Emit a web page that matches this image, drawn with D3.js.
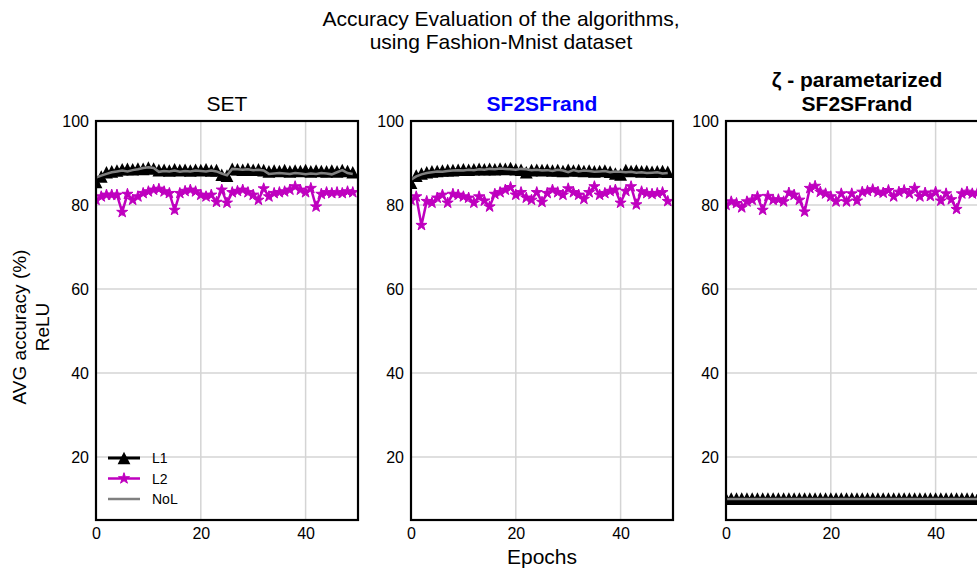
<!DOCTYPE html>
<html>
<head>
<meta charset="utf-8">
<script src="https://cdn.jsdelivr.net/npm/d3@7"></script>
<style>
  body { margin: 0; background: #ffffff; }
  svg { display: block; font-family: "Liberation Sans", Arial, sans-serif; }
</style>
</head>
<body>
<svg id="chart" width="977" height="571"></svg>
<script>
// ---- data -------------------------------------------------------------
const epochs = d3.range(0, 50);

const setL1 = [85.5, 86.8, 87.8, 88.0, 88.2, 88.5, 88.6, 88.5, 88.7, 88.6,
               88.9, 88.7, 88.3, 88.4, 88.2, 88.5, 88.3, 88.4, 88.2, 88.4,
               88.3, 88.5, 88.2, 88.3, 87.2, 87.0, 88.6, 88.5, 88.4, 88.6,
               88.4, 88.5, 88.3, 88.0, 88.2, 88.1, 88.3, 88.0, 88.2, 88.1,
               88.3, 88.0, 88.2, 88.1, 88.0, 88.2, 88.0, 88.3, 88.1, 87.8];
const setL2 = [81.2, 82.0, 82.4, 82.4, 82.4, 78.3, 82.6, 81.2, 82.0, 82.8,
               83.2, 83.6, 83.8, 83.2, 82.8, 78.8, 82.8, 83.3, 83.6, 83.2,
               82.4, 82.0, 82.4, 80.7, 83.6, 80.5, 83.0, 83.3, 83.6, 83.0,
               82.4, 81.2, 83.9, 82.0, 82.8, 83.0, 83.2, 83.6, 84.4, 83.6,
               83.0, 84.0, 79.6, 82.6, 83.0, 82.8, 83.0, 82.8, 83.2, 83.0];
const setNoL = [86.5, 87.0, 87.4, 87.8, 88.0, 88.2, 88.0, 88.3, 88.5, 88.8,
                89.0, 88.8, 87.9, 88.1, 88.0, 88.2, 87.9, 88.1, 88.0, 88.2,
                88.1, 88.0, 88.2, 88.0, 87.5, 87.1, 88.6, 88.5, 88.4, 88.5,
                88.3, 88.4, 88.2, 87.4, 87.5, 87.6, 87.5, 87.4, 87.6, 87.5,
                87.3, 87.5, 87.4, 87.6, 87.5, 87.3, 87.8, 88.3, 87.6, 87.4];

const sfL1 = [85.3, 87.0, 87.5, 87.8, 88.0, 88.1, 88.2, 88.3, 88.3, 88.4,
              88.5, 88.4, 88.5, 88.6, 88.5, 88.6, 88.5, 88.7, 88.6, 88.8,
              88.5, 88.4, 87.8, 88.3, 88.4, 88.3, 88.4, 88.2, 88.3, 88.1,
              88.4, 88.2, 88.3, 88.1, 88.2, 88.0, 88.1, 88.2, 87.9, 87.5,
              87.3, 88.3, 88.1, 88.2, 88.0, 88.1, 87.9, 88.0, 88.1, 87.9];
const sfL2 = [81.2, 82.0, 75.2, 80.9, 80.5, 81.7, 82.4, 80.5, 82.6, 82.4,
              82.0, 81.7, 80.5, 82.0, 81.0, 79.6, 82.6, 83.0, 83.6, 84.2,
              82.4, 83.0, 81.7, 81.2, 83.0, 80.7, 82.8, 83.6, 83.0, 82.4,
              83.9, 83.0, 82.4, 81.4, 83.0, 84.4, 82.4, 82.8, 83.3, 83.6,
              80.5, 83.3, 84.4, 80.1, 83.2, 82.8, 82.6, 82.8, 83.0, 80.9];
const sfNoL = [86.0, 86.8, 87.3, 87.6, 87.8, 88.0, 87.9, 88.1, 88.2, 88.3,
               88.2, 88.4, 88.3, 88.5, 88.4, 88.6, 88.5, 88.7, 88.6, 88.5,
               88.4, 88.6, 88.5, 88.3, 88.4, 88.2, 88.3, 88.1, 88.4, 88.2,
               87.8, 88.3, 88.0, 88.2, 88.1, 87.9, 88.0, 88.1, 87.8, 88.0,
               87.9, 87.8, 87.9, 87.7, 87.8, 87.6, 87.7, 87.8, 87.5, 87.6];

const zetaL1 = [10.1, 10.1, 10.1, 10.1, 10.1, 10.1, 10.1, 10.1, 10.1, 10.1,
                10.1, 10.1, 10.1, 10.1, 10.1, 10.1, 10.1, 10.1, 10.1, 10.1,
                10.1, 10.1, 10.1, 10.1, 10.1, 10.1, 10.1, 10.1, 10.1, 10.1,
                10.1, 10.1, 10.1, 10.1, 10.1, 10.1, 10.1, 10.1, 10.1, 10.1,
                10.1, 10.1, 10.1, 10.1, 10.1, 10.1, 10.1, 10.1, 10.1, 10.1];
const zetaL2 = [80.0, 80.8, 80.4, 79.4, 80.8, 81.2, 82.0, 78.8, 82.1, 81.2,
                81.3, 80.8, 82.9, 82.4, 81.2, 78.4, 84.0, 84.5, 83.1, 82.7,
                82.0, 80.8, 82.7, 80.8, 82.7, 81.0, 83.1, 83.3, 83.7, 83.1,
                82.9, 83.5, 82.0, 83.1, 83.5, 82.7, 84.0, 82.0, 82.9, 82.1,
                83.1, 81.0, 82.7, 81.3, 79.0, 82.7, 83.1, 82.7, 82.9, 83.0];
const zetaNoL = [10.0, 10.0, 10.0, 10.0, 10.0, 10.0, 10.0, 10.0, 10.0, 10.0,
                 10.0, 10.0, 10.0, 10.0, 10.0, 10.0, 10.0, 10.0, 10.0, 10.0,
                 10.0, 10.0, 10.0, 10.0, 10.0, 10.0, 10.0, 10.0, 10.0, 10.0,
                 10.0, 10.0, 10.0, 10.0, 10.0, 10.0, 10.0, 10.0, 10.0, 10.0,
                 10.0, 10.0, 10.0, 10.0, 10.0, 10.0, 10.0, 10.0, 10.0, 10.0];

const panelTitles = [["SET"], ["SF2SFrand"], ["ζ - parametarized", "SF2SFrand"]];
const seriesNames = ["L1", "L2", "NoL"];
const yTicks = [20, 40, 60, 80, 100];
const xTicks = [0, 20, 40];

// ---- layout & styles --------------------------------------------------
const panels = [
  { title: panelTitles[0], color: "#000000", weight: "normal", L1: setL1, L2: setL2, NoL: setNoL },
  { title: panelTitles[1], color: "#0000ff", weight: "bold",   L1: sfL1,  L2: sfL2,  NoL: sfNoL },
  { title: panelTitles[2], color: "#000000", weight: "bold",   L1: zetaL1, L2: zetaL2, NoL: zetaNoL }
];
const panelLeft = [96, 411, 726];
const plotTop = 121, plotW = 262, plotH = 399;
const magenta = "#bf00bf", grey = "#808080";

const x = d3.scaleLinear().domain([0, 50]).range([0, plotW]);
const y = d3.scaleLinear().domain([5, 100]).range([plotH, 0]);

const triangle = "M0,-6.3L6.4,6.3L-6.4,6.3Z";
const star = d3.symbol().type(d3.symbolStar).size(38)();

const svg = d3.select("#chart");

// figure title
const sup = svg.append("text").attr("text-anchor", "middle").attr("font-size", 21).attr("fill", "#000");
sup.append("tspan").attr("x", 501).attr("y", 26).text("Accuracy Evaluation of the algorithms,");
sup.append("tspan").attr("x", 501).attr("y", 49).text("using Fashion-Mnist dataset");

panels.forEach((p, i) => {
  const g = svg.append("g").attr("transform", `translate(${panelLeft[i]},${plotTop})`);

  g.append("defs").append("clipPath").attr("id", "clip" + i)
    .append("rect").attr("width", plotW).attr("height", plotH);

  // grid
  g.append("g").selectAll("line").data(yTicks).join("line")
    .attr("x1", 0).attr("x2", plotW).attr("y1", d => y(d)).attr("y2", d => y(d))
    .attr("stroke", "#d4d4d4").attr("stroke-width", 1.5);
  g.append("g").selectAll("line").data(xTicks).join("line")
    .attr("x1", d => x(d)).attr("x2", d => x(d)).attr("y1", 0).attr("y2", plotH)
    .attr("stroke", "#d4d4d4").attr("stroke-width", 1.5);

  // axes (labels only)
  const yAxis = g.append("g").call(d3.axisLeft(y).tickValues(yTicks).tickSize(0).tickPadding(7));
  const xAxis = g.append("g").attr("transform", `translate(0,${plotH})`)
    .call(d3.axisBottom(x).tickValues(xTicks).tickSize(0).tickPadding(8));
  [yAxis, xAxis].forEach(a => {
    a.select(".domain").remove();
    a.selectAll("text").attr("font-size", 16).attr("fill", "#000")
      .attr("font-family", '"Liberation Sans", Arial, sans-serif');
  });

  const plot = g.append("g").attr("clip-path", `url(#clip${i})`);
  const line = d3.line().x((d, k) => x(epochs[k])).y(d => y(d));

  // L1: black with triangles
  plot.append("path").datum(p.L1).attr("d", line)
    .attr("fill", "none").attr("stroke", "#000").attr("stroke-width", 3);
  plot.append("g").selectAll("path").data(p.L1).join("path")
    .attr("transform", (d, k) => `translate(${x(epochs[k])},${y(d)})`)
    .attr("d", triangle).attr("fill", "#000");

  // L2: magenta with stars
  plot.append("path").datum(p.L2).attr("d", line)
    .attr("fill", "none").attr("stroke", magenta).attr("stroke-width", 2.5);
  plot.append("g").selectAll("path").data(p.L2).join("path")
    .attr("transform", (d, k) => `translate(${x(epochs[k])},${y(d)})`)
    .attr("d", star).attr("fill", magenta).attr("stroke", magenta).attr("stroke-width", 1);

  // NoL: grey line
  plot.append("path").datum(p.NoL).attr("d", line)
    .attr("fill", "none").attr("stroke", grey).attr("stroke-width", 2.5);

  // frame
  g.append("rect").attr("width", plotW).attr("height", plotH)
    .attr("fill", "none").attr("stroke", "#000").attr("stroke-width", 2.2);

  // panel title
  const t = g.append("text").attr("text-anchor", "middle").attr("font-size", 21)
    .attr("font-weight", p.weight).attr("fill", p.color);
  p.title.forEach((line, k) => {
    t.append("tspan").attr("x", plotW / 2)
      .attr("y", -10 - (p.title.length - 1 - k) * 24).text(line);
  });
});

// legend in first panel
const leg = svg.append("g").attr("transform", "translate(108,458)");
seriesNames.forEach((name, k) => {
  const row = leg.append("g").attr("transform", `translate(0,${k * 20.5})`);
  const col = k === 0 ? "#000" : k === 1 ? magenta : grey;
  row.append("line").attr("x1", 0).attr("x2", 32).attr("stroke", col)
    .attr("stroke-width", k === 0 ? 3 : 2.5);
  if (k === 0) row.append("path").attr("d", triangle).attr("transform", "translate(16,0)").attr("fill", "#000");
  if (k === 1) row.append("path").attr("d", star).attr("transform", "translate(16,0)")
    .attr("fill", magenta).attr("stroke", magenta).attr("stroke-width", 1);
  row.append("text").attr("x", 44).attr("y", 5).attr("font-size", 14).attr("fill", "#000").text(name);
});

// axis labels
svg.append("text").attr("x", 542).attr("y", 564).attr("text-anchor", "middle")
  .attr("font-size", 21).text("Epochs");
const yl = svg.append("text").attr("transform", "translate(0,327) rotate(-90)")
  .attr("text-anchor", "middle").attr("font-size", 19);
yl.append("tspan").attr("x", 0).attr("y", 26).text("AVG accuracy (%)");
yl.append("tspan").attr("x", 0).attr("y", 49).text("ReLU");
</script>
</body>
</html>
